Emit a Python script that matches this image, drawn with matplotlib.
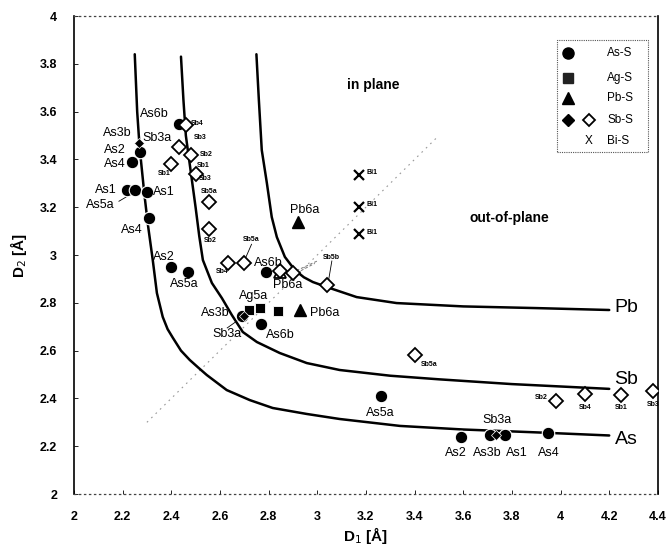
import numpy as np
import matplotlib
matplotlib.use("Agg")
import matplotlib.pyplot as plt

plt.rcParams['font.family'] = ['Liberation Sans', 'DejaVu Sans']

# iso-valence curves
as_curve_x = [2.25, 2.26, 2.27, 2.29, 2.305, 2.324, 2.341, 2.365, 2.385, 2.407, 2.44, 2.476, 2.51, 2.546,
              2.628, 2.723, 2.817, 2.957, 3.092, 3.34, 3.6, 3.9, 4.2]
as_curve_y = [3.84, 3.6, 3.45, 3.25, 3.12, 2.979, 2.841, 2.741, 2.69, 2.653, 2.60, 2.561, 2.53, 2.498,
              2.435, 2.393, 2.36, 2.335, 2.314, 2.285, 2.27, 2.258, 2.245]
sb_curve_x = [2.44, 2.45, 2.46, 2.48, 2.50, 2.515, 2.53, 2.567, 2.608, 2.649, 2.694, 2.752, 2.846, 2.957,
              3.092, 3.3, 3.5, 3.8, 4.0, 4.2]
sb_curve_y = [3.83, 3.65, 3.5, 3.35, 3.2, 3.08, 2.979, 2.883, 2.82, 2.749, 2.678, 2.636, 2.59, 2.548,
              2.519, 2.495, 2.48, 2.46, 2.45, 2.44]
pb_curve_x = [2.75, 2.76, 2.772, 2.793, 2.813, 2.834, 2.867, 2.908, 2.945, 2.982, 3.051, 3.162, 3.326, 3.6, 3.9, 4.2]
pb_curve_y = [3.84, 3.65, 3.439, 3.301, 3.159, 3.075, 2.992, 2.937, 2.907, 2.887, 2.862, 2.824, 2.799, 2.785, 2.778, 2.77]

# As-S
as_d1 = [2.43, 2.27, 2.24, 2.22, 2.25, 2.30, 2.31, 2.40, 2.47, 2.79, 2.77, 2.69, 3.26, 3.59, 3.71, 3.77, 3.95]
as_d2 = [3.55, 3.43, 3.39, 3.27, 3.27, 3.265, 3.155, 2.95, 2.93, 2.93, 2.71, 2.745, 2.41, 2.24, 2.245, 2.245, 2.255]
# Ag-S
ag_d1 = [2.72, 2.765, 2.84]
ag_d2 = [2.77, 2.78, 2.765]
# Pb-S
pb_d1 = [2.92, 2.93]
pb_d2 = [3.14, 2.77]
pb_open_d1 = [2.845]
pb_open_d2 = [2.93]
# Sb-S
sb_fill_d1 = [2.267, 2.70, 3.735]
sb_fill_d2 = [3.47, 2.745, 2.245]
sb_d1 = [2.46, 2.43, 2.48, 2.40, 2.50, 2.555, 2.555, 2.635, 2.70, 2.845, 2.90, 3.04, 3.40, 3.98, 4.10, 4.25, 4.38]
sb_d2 = [3.545, 3.45, 3.42, 3.38, 3.34, 3.22, 3.11, 2.965, 2.965, 2.935, 2.925, 2.875, 2.58, 2.39, 2.42, 2.415, 2.43]
# Bi-S
bi_d1 = [3.17, 3.17, 3.17]
bi_d2 = [3.335, 3.20, 3.09]

# labels (text, x, y)
big_labels = [
    ("As6b", 2.33, 3.59), ("As3b", 2.18, 3.51), ("Sb3a", 2.34, 3.49), ("As2", 2.17, 3.44),
    ("As4", 2.17, 3.38), ("As1", 2.13, 3.27), ("As5a", 2.11, 3.21), ("As1", 2.37, 3.265),
    ("As4", 2.24, 3.105), ("As2", 2.37, 2.99), ("As5a", 2.455, 2.88), ("As6b", 2.80, 2.967),
    ("Pb6a", 2.88, 2.875), ("Ag5a", 2.74, 2.83), ("As3b", 2.58, 2.757), ("Pb6a", 3.03, 2.757),
    ("Sb3a", 2.63, 2.67), ("As6b", 2.85, 2.665), ("As5a", 3.26, 2.34), ("Pb6a", 2.95, 3.19),
    ("Sb3a", 3.74, 2.31), ("As2", 3.57, 2.17), ("As3b", 3.70, 2.17), ("As1", 3.82, 2.17),
    ("As4", 3.95, 2.17),
]
small_labels = [
    ("Sb4", 2.505, 3.55), ("Sb3", 2.52, 3.49), ("Sb2", 2.545, 3.42), ("Sb1", 2.53, 3.375),
    ("Sb1", 2.37, 3.34), ("Sb3", 2.54, 3.32), ("Sb5a", 2.555, 3.265), ("Sb2", 2.56, 3.06),
    ("Sb5a", 2.73, 3.065), ("Sb4", 2.61, 2.93), ("Sb5b", 3.06, 2.99), ("Sb5a", 3.46, 2.54),
    ("Sb2", 3.92, 2.405), ("Sb4", 4.10, 2.36), ("Sb1", 4.25, 2.36), ("Sb3", 4.38, 2.375),
    ("Bi1", 3.225, 3.345), ("Bi1", 3.225, 3.21), ("Bi1", 3.225, 3.095),
]

fig = plt.figure(figsize=(6.72, 5.52), dpi=100)
ax = fig.add_axes([0.110, 0.105, 0.869, 0.866])

# diagonal D1 = D2
ax.plot([2.3, 3.5], [2.3, 3.5], color='#999999', lw=0.8, ls=(0, (1.5, 4)), zorder=1)
ax.plot([2.915, 3.0], [2.935, 2.975], color='#777777', lw=0.7, ls=(0, (3, 2)), zorder=1)
ax.plot([2.915, 2.99], [2.925, 2.965], color='#777777', lw=0.7, ls=(0, (3, 2)), zorder=1)

for cx, cy in [(as_curve_x, as_curve_y), (sb_curve_x, sb_curve_y), (pb_curve_x, pb_curve_y)]:
    ax.plot(cx, cy, color='black', lw=1.8, zorder=2, solid_capstyle='round', solid_joinstyle='round')

# leader lines
ax.plot([2.185, 2.235], [3.225, 3.255], color='black', lw=0.6, zorder=2)
ax.plot([2.73, 2.70], [3.045, 2.975], color='black', lw=0.6, zorder=2)
ax.plot([3.06, 3.045], [2.975, 2.885], color='black', lw=0.6, zorder=2)
ax.plot([2.63, 2.685], [2.695, 2.735], color='black', lw=0.6, zorder=2)

ax.plot(as_d1, as_d2, 'o', ms=9, color='black', mec='white', mew=0.8, ls='none', zorder=4)
ax.plot(ag_d1, ag_d2, 's', ms=7.5, color='black', mec='white', mew=0.6, ls='none', zorder=4)
ax.plot(pb_d1, pb_d2, '^', ms=8, color='black', ls='none', zorder=4)
ax.plot(pb_open_d1, pb_open_d2, '^', ms=8, mfc='white', mec='black', mew=1.3, ls='none', zorder=5)
ax.plot(sb_d1, sb_d2, 'D', ms=7, mfc='white', mec='black', mew=1.3, ls='none', zorder=5)
ax.plot(sb_fill_d1, sb_fill_d2, 'D', ms=5.5, color='black', mec='white', mew=0.5, ls='none', zorder=6)
ax.plot(bi_d1, bi_d2, 'x', ms=7, color='black', mew=1.6, ls='none', zorder=4)

for t, x, y in big_labels:
    ax.text(x, y, t, fontsize=9, ha='center', va='center', zorder=7)
for t, x, y in small_labels:
    ax.text(x, y, t, fontsize=5, ha='center', va='center', fontweight='bold', zorder=7)

ax.text(3.23, 3.71, "in plane", fontsize=10, fontweight='bold', ha='center', va='center')
ax.text(3.79, 3.155, "out-of-plane", fontsize=10, fontweight='bold', ha='center', va='center')
ax.text(4.27, 2.78, "Pb", fontsize=14, ha='center', va='center')
ax.text(4.27, 2.48, "Sb", fontsize=14, ha='center', va='center')
ax.text(4.27, 2.23, "As", fontsize=14, ha='center', va='center')

# legend drawn by hand (Sb-S has two symbols)
lg = ax.transAxes
ax.add_patch(plt.Rectangle((0.827, 0.715), 0.156, 0.235, transform=lg, fill=False,
                           ec='#555555', lw=0.8, ls=(0, (1, 1)), zorder=8))
rows = [0.923, 0.870, 0.828, 0.782, 0.738]
names = ["As-S", "Ag-S", "Pb-S", "Sb-S", "Bi-S"]
for r, n in zip(rows, names):
    ax.text(0.913, r, n, transform=lg, fontsize=8.5, va='center', ha='left', zorder=9)
ax.plot([0.846], [rows[0]], 'o', ms=8, color='black', transform=lg, zorder=9)
ax.plot([0.846], [rows[1]], 's', ms=7.5, color='#222222', transform=lg, zorder=9)
ax.plot([0.846], [rows[2]], '^', ms=8, color='black', transform=lg, zorder=9)
ax.plot([0.846], [rows[3]], 'D', ms=6.5, color='black', transform=lg, zorder=9)
ax.plot([0.882], [rows[3]], 'D', ms=6.5, mfc='white', mec='black', mew=1.3, transform=lg, zorder=9)
ax.text(0.882, rows[4], "X", transform=lg, fontsize=8.5, va='center', ha='center', zorder=9)

ax.set_xlim(2, 4.4)
ax.set_ylim(2, 4)
ax.set_xticks(np.arange(2, 4.41, 0.2))
ax.set_yticks(np.arange(2, 4.01, 0.2))
ax.set_xticklabels(["2", "2.2", "2.4", "2.6", "2.8", "3", "3.2", "3.4", "3.6", "3.8", "4", "4.2", "4.4"])
ax.set_yticklabels(["2", "2.2", "2.4", "2.6", "2.8", "3", "3.2", "3.4", "3.6", "3.8", "4"])
ax.tick_params(direction='in', length=3, width=0.6, labelsize=9, pad=12)
for lab in ax.get_xticklabels() + ax.get_yticklabels():
    lab.set_fontweight('bold')

ax.spines['left'].set_linewidth(1.2)
ax.spines['right'].set_linewidth(1.2)
for s in ['top', 'bottom']:
    ax.spines[s].set_linestyle((0, (1, 3)))
    ax.spines[s].set_linewidth(0.9)
    ax.spines[s].set_color('#444444')

ax.set_xlabel("D$_1$ [Å]", fontsize=11, fontweight='bold', labelpad=2)
ax.set_ylabel("D$_2$ [Å]", fontsize=11, fontweight='bold', labelpad=8)

fig.savefig("out.png", dpi=100)
